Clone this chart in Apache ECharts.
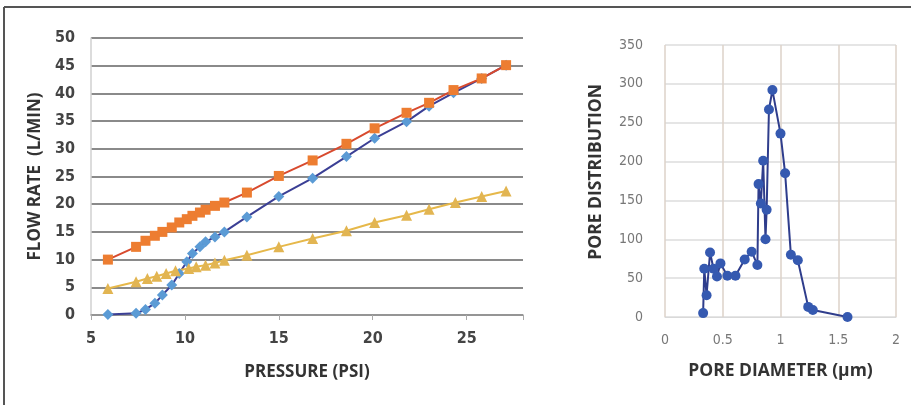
<!DOCTYPE html>
<html>
<head>
<meta charset="utf-8">
<script src="https://cdn.jsdelivr.net/npm/echarts@6/dist/echarts.min.js"></script>
<style>
  html, body { margin: 0; padding: 0; background: #fff; }
  #main { width: 911px; height: 405px; }
</style>
</head>
<body>
<div id="main"></div>
<script>
// left chart: flow rate vs pressure
const pressure = [5.9, 7.4, 7.9, 8.4, 8.8, 9.3, 9.7, 10.1, 10.4, 10.8, 11.1, 11.6, 12.1, 13.3, 15.0, 16.8, 18.6, 20.1, 21.8, 23.0, 24.3, 25.8, 27.1];
const flowOrange = [10.0, 12.3, 13.4, 14.3, 15.0, 15.8, 16.7, 17.3, 17.9, 18.5, 19.0, 19.7, 20.3, 22.1, 25.1, 27.9, 30.9, 33.7, 36.5, 38.3, 40.6, 42.7, 45.1];
const flowBlue = [0.1, 0.3, 1.0, 2.1, 3.6, 5.4, 7.5, 9.6, 11.1, 12.3, 13.2, 14.1, 15.0, 17.7, 21.4, 24.7, 28.6, 31.9, 34.9, 37.7, 40.1, 42.7, 45.1];
const flowYellow = [4.8, 6.0, 6.6, 7.0, 7.5, 8.0, 8.4, 8.7, 9.0, 9.4, 9.9, 10.8, 12.3, 13.8, 15.2, 16.7, 18.0, 19.1, 20.3, 21.4, 22.4];
const pressureYellow = [5.9, 7.4, 8.0, 8.5, 9.0, 9.5, 10.2, 10.6, 11.1, 11.6, 12.1, 13.3, 15.0, 16.8, 18.6, 20.1, 21.8, 23.0, 24.4, 25.8, 27.1];

// right chart: pore distribution vs pore diameter
const poreDiameter = [0.33, 0.34, 0.36, 0.39, 0.42, 0.45, 0.48, 0.54, 0.61, 0.69, 0.75, 0.80, 0.81, 0.83, 0.85, 0.87, 0.88, 0.90, 0.93, 1.00, 1.04, 1.09, 1.15, 1.24, 1.28, 1.58];
const poreDist = [5, 62, 28, 83, 62, 52, 69, 53, 53, 74, 84, 67, 171, 146, 201, 100, 138, 267, 292, 236, 185, 80, 73, 13, 9, 0];

const zip = (xs, ys) => xs.map((x, i) => [x, ys[i]]);

const narrow = '"Liberation Sans Narrow", "DejaVu Sans Condensed", sans-serif';
const titleFont = '"Open Sans", sans-serif';

const chart = echarts.init(document.getElementById('main'), null, { renderer: 'canvas' });

chart.setOption({
  animation: false,
  backgroundColor: '#fff',
  graphic: [
    { type: 'line', shape: { x1: 4, y1: 7, x2: 911, y2: 7 }, style: { stroke: '#555', lineWidth: 2 } },
    { type: 'line', shape: { x1: 4, y1: 7, x2: 4, y2: 405 }, style: { stroke: '#555', lineWidth: 2 } }
  ],
  grid: [
    { left: 91, top: 38, width: 432, height: 277 },
    { left: 665, top: 45, width: 231, height: 272 }
  ],
  xAxis: [
    {
      gridIndex: 0, type: 'value', min: 5, max: 28, interval: 5,
      name: 'PRESSURE (PSI)', nameLocation: 'middle', nameGap: 49,
      nameTextStyle: { fontFamily: titleFont, fontWeight: 'bold', fontSize: 17, color: '#333' },
      axisLine: { show: true, lineStyle: { color: '#999', width: 1.5 } },
      axisTick: { show: true, length: 5, lineStyle: { color: '#aaa' } },
      axisLabel: { fontFamily: narrow, fontWeight: 'bold', fontSize: 16, color: '#444', margin: 16,
        formatter: v => (v % 5 === 0 ? String(v) : '') },
      splitLine: { show: false }
    },
    {
      gridIndex: 1, type: 'value', min: 0, max: 2, interval: 0.5,
      name: 'PORE DIAMETER (µm)', nameLocation: 'middle', nameGap: 45,
      nameTextStyle: { fontFamily: titleFont, fontWeight: 'bold', fontSize: 17.5, color: '#333' },
      axisLine: { show: true, lineStyle: { color: '#d9d9d9' } },
      axisTick: { show: false },
      axisLabel: { fontFamily: narrow, fontSize: 14, color: '#777', margin: 16 },
      splitLine: { show: true, lineStyle: { color: '#ddd2c8', width: 1.5 } }
    }
  ],
  yAxis: [
    {
      gridIndex: 0, type: 'value', min: 0, max: 50, interval: 5,
      name: 'FLOW RATE  (L/MIN)', nameLocation: 'middle', nameGap: 47, nameRotate: 90,
      nameTextStyle: { fontFamily: titleFont, fontWeight: 'bold', fontSize: 17, color: '#333' },
      axisLine: { show: true, lineStyle: { color: '#d0d0d0', width: 1.5 } },
      axisTick: { show: false },
      axisLabel: { fontFamily: narrow, fontWeight: 'bold', fontSize: 16, color: '#444', margin: 16 },
      splitLine: { show: true, lineStyle: { color: '#8a8a8a', width: 2 } }
    },
    {
      gridIndex: 1, type: 'value', min: 0, max: 350, interval: 50,
      name: '    PORE DISTRIBUTION', nameLocation: 'middle', nameGap: 60, nameRotate: 90,
      nameTextStyle: { fontFamily: titleFont, fontWeight: 'bold', fontSize: 17.5, color: '#333' },
      axisLine: { show: false },
      axisTick: { show: false },
      axisLabel: { fontFamily: narrow, fontSize: 14, color: '#777', margin: 22 },
      splitLine: { show: true, lineStyle: { color: '#dcdcdc', width: 1.5 } }
    }
  ],
  series: [
    {
      type: 'line', xAxisIndex: 0, yAxisIndex: 0,
      data: zip(pressure, flowBlue),
      symbol: 'diamond', symbolSize: 11,
      itemStyle: { color: '#5b9bd5' },
      lineStyle: { color: '#3b3f95', width: 2 }
    },
    {
      type: 'line', xAxisIndex: 0, yAxisIndex: 0,
      data: zip(pressureYellow, flowYellow),
      symbol: 'triangle', symbolSize: 11,
      itemStyle: { color: '#e2b552' },
      lineStyle: { color: '#e6b84a', width: 2 }
    },
    {
      type: 'line', xAxisIndex: 0, yAxisIndex: 0,
      data: zip(pressure, flowOrange),
      symbol: 'rect', symbolSize: 10,
      itemStyle: { color: '#ed7d31' },
      lineStyle: { color: '#d84a2e', width: 2 }
    },
    {
      type: 'line', xAxisIndex: 1, yAxisIndex: 1,
      data: zip(poreDiameter, poreDist),
      symbol: 'circle', symbolSize: 10,
      itemStyle: { color: '#3559b0' },
      lineStyle: { color: '#2f3d8c', width: 2 }
    }
  ]
});
</script>
</body>
</html>
